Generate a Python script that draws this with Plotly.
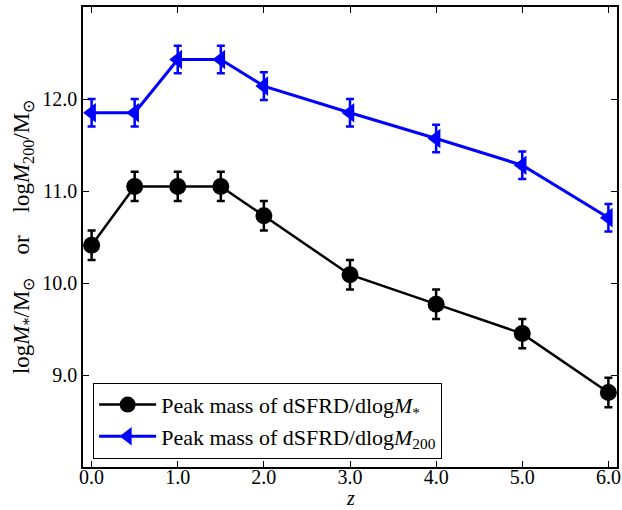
import plotly.graph_objects as go

z = [0.0, 0.5, 1.0, 1.5, 2.0, 3.0, 4.0, 5.0, 6.0]
mstar = [10.41, 11.05, 11.05, 11.05, 10.73, 10.09, 9.77, 9.45, 8.81]
mstar_err = [0.16, 0.16, 0.16, 0.16, 0.16, 0.16, 0.16, 0.16, 0.16]
m200 = [11.85, 11.85, 12.43, 12.43, 12.14, 11.85, 11.57, 11.28, 10.71]
m200_err = [0.15, 0.15, 0.15, 0.15, 0.15, 0.15, 0.15, 0.15, 0.15]

xticks = [0, 1, 2, 3, 4, 5, 6]
yticks = [9, 10, 11, 12]

FONT = "Liberation Serif"

fig = go.Figure()
fig.add_trace(go.Scatter(
    x=z, y=mstar, mode="lines+markers",
    name="Peak mass of dSFRD/dlog<i>M</i><sub>*</sub>",
    line=dict(color="black", width=2.5),
    marker=dict(symbol="circle", size=17, color="black"),
    error_y=dict(type="data", array=mstar_err, color="black", thickness=2.5, width=4),
))
fig.add_trace(go.Scatter(
    x=z, y=m200, mode="lines+markers",
    name="Peak mass of dSFRD/dlog<i>M</i><sub>200</sub>",
    line=dict(color="#0000ff", width=3),
    marker=dict(symbol="triangle-left", size=17, color="#0000ff"),
    error_y=dict(type="data", array=m200_err, color="#0000ff", thickness=2.5, width=4),
))

axis_common = dict(
    showgrid=False, zeroline=False, showline=True, linecolor="black", linewidth=1.5,
    mirror="ticks", ticks="inside", ticklen=6, tickwidth=1, tickcolor="black",
    tickfont=dict(family=FONT, size=20, color="black"), automargin=False,
)

fig.update_xaxes(range=[-0.1, 6.1], tickvals=xticks, ticktext=[f"{t:.1f}" for t in xticks],
                 ticklabelstandoff=-9, **axis_common)
fig.update_yaxes(range=[8.0, 13.0], tickvals=yticks, ticktext=[f"{t:.1f}" for t in yticks],
                 title=dict(text="log<i>M</i><sub>*</sub>/M<sub>⊙</sub>    or    log<i>M</i><sub>200</sub>/M<sub>⊙</sub>",
                            font=dict(family=FONT, size=23, color="black"), standoff=6),
                 **axis_common)

fig.add_annotation(text="<i>z</i>", xref="paper", yref="paper", x=0.5, y=-0.068,
                   xanchor="center", yanchor="middle", showarrow=False,
                   font=dict(family=FONT, size=20, color="black"))

fig.update_layout(
    width=622, height=510,
    margin=dict(l=83, r=5, t=7, b=43),
    paper_bgcolor="white", plot_bgcolor="white",
    legend=dict(x=0.019, y=0.183, xanchor="left", yanchor="top",
                bordercolor="black", borderwidth=1, bgcolor="white",
                font=dict(family=FONT, size=22, color="black"),
                itemwidth=57, tracegroupgap=0),
    showlegend=True,
)

fig.write_html("out.html")
